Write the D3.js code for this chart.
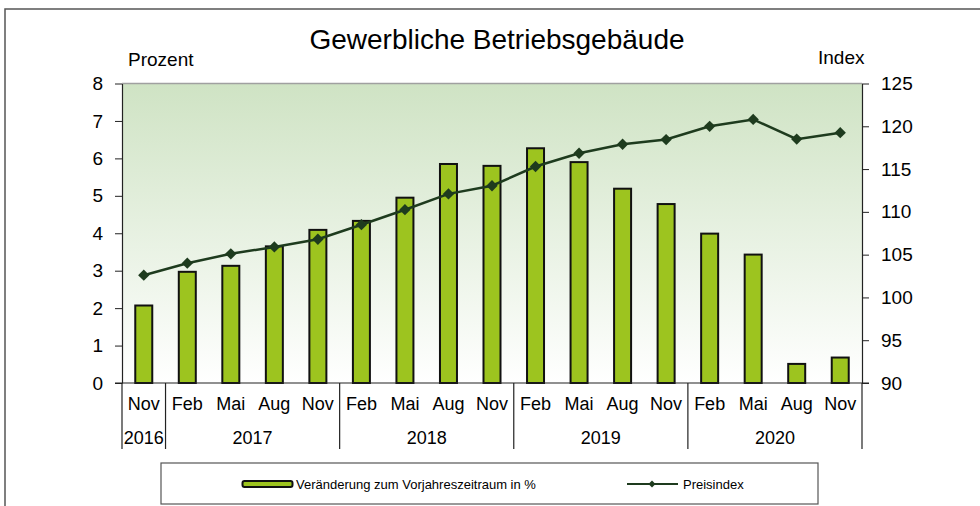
<!DOCTYPE html>
<html>
<head>
<meta charset="utf-8">
<script src="https://cdn.jsdelivr.net/npm/d3@7"></script>
<style>
  body { margin: 0; background: #fff; }
  svg { display: block; font-family: 'Liberation Sans', Arial, sans-serif; }
</style>
</head>
<body>
<div id="chart"></div>
<script>
const months = ['Nov', 'Feb', 'Mai', 'Aug', 'Nov', 'Feb', 'Mai', 'Aug', 'Nov', 'Feb', 'Mai', 'Aug', 'Nov', 'Feb', 'Mai', 'Aug', 'Nov']
const years = [
  { label: '2016', start: 0, end: 1 },
  { label: '2017', start: 1, end: 5 },
  { label: '2018', start: 5, end: 9 },
  { label: '2019', start: 9, end: 13 },
  { label: '2020', start: 13, end: 17 },
]
// Veränderung zum Vorjahreszeitraum in %
const changePct = [2.07, 2.97, 3.13, 3.65, 4.09, 4.33, 4.95, 5.85, 5.8, 6.27, 5.9, 5.19, 4.78, 3.99, 3.43, 0.51, 0.68]
// Preisindex
const priceIndex = [102.6, 104.0, 105.1, 105.9, 106.8, 108.5, 110.25, 112.1, 113.05, 115.3, 116.85, 117.9, 118.45, 120.0, 120.8, 118.5, 119.25]
const leftTicks = [0, 1, 2, 3, 4, 5, 6, 7, 8]
const rightTicks = [90, 95, 100, 105, 110, 115, 120, 125]

const width = 980
const height = 506
const plot = { left: 122, right: 862, top: 83.5, bottom: 383 }

const barColor = '#9dc41f'
const lineColor = '#1e3b1e'

const svg = d3
  .select('#chart')
  .append('svg')
  .attr('width', width)
  .attr('height', height)

// outer frame
svg
  .append('rect')
  .attr('x', 5)
  .attr('y', 9)
  .attr('width', width)
  .attr('height', height)
  .attr('fill', 'none')
  .attr('stroke', '#555')
  .attr('stroke-width', 1.5)

const grad = svg
  .append('defs')
  .append('linearGradient')
  .attr('id', 'bg')
  .attr('x1', 0)
  .attr('y1', 0)
  .attr('x2', 0)
  .attr('y2', 1)
grad.append('stop').attr('offset', '0%').attr('stop-color', '#cfe3c4')
grad.append('stop').attr('offset', '100%').attr('stop-color', '#ffffff')

const idx = d3.range(months.length)
const xScale = d3
  .scaleBand()
  .domain(idx)
  .range([plot.left, plot.right])
  .paddingInner(0)
  .paddingOuter(0)
const barWidth = 17

const yLeft = d3.scaleLinear().domain([0, 8]).range([plot.bottom, plot.top])
const yRight = d3.scaleLinear().domain([90, 125]).range([plot.bottom, plot.top])

svg
  .append('rect')
  .attr('x', plot.left)
  .attr('y', plot.top)
  .attr('width', plot.right - plot.left)
  .attr('height', plot.bottom - plot.top)
  .attr('fill', 'url(#bg)')

svg
  .append('line')
  .attr('x1', plot.left)
  .attr('x2', plot.right)
  .attr('y1', plot.top)
  .attr('y2', plot.top)
  .attr('stroke', '#a0a0a0')
  .attr('stroke-width', 1.5)

// bars
svg
  .append('g')
  .selectAll('rect')
  .data(idx)
  .join('rect')
  .attr('x', i => xScale(i) + xScale.bandwidth() / 2 - barWidth / 2)
  .attr('y', i => yLeft(changePct[i]))
  .attr('width', barWidth)
  .attr('height', i => yLeft(0) - yLeft(changePct[i]))
  .attr('fill', barColor)
  .attr('stroke', '#111')
  .attr('stroke-width', 2)

// axes
svg
  .append('g')
  .attr('transform', `translate(${plot.left},0)`)
  .call(d3.axisLeft(yLeft).tickValues(leftTicks).tickSize(7).tickSizeOuter(0).tickPadding(12))
  .call(g => {
    g.select('.domain').attr('stroke', '#222').attr('stroke-width', 1.2)
    g.selectAll('.tick line').attr('stroke', '#222')
    g.selectAll('.tick text').attr('fill', '#000').style('font-size', '19px')
  })

svg
  .append('g')
  .attr('transform', `translate(${plot.right},0)`)
  .call(d3.axisRight(yRight).tickValues(rightTicks).tickSize(7).tickSizeOuter(0).tickPadding(12))
  .call(g => {
    g.select('.domain').attr('stroke', '#222').attr('stroke-width', 1.2)
    g.selectAll('.tick line').attr('stroke', '#222')
    g.selectAll('.tick text').attr('fill', '#000').style('font-size', '19px')
  })

svg
  .append('line')
  .attr('x1', plot.left - 7)
  .attr('x2', plot.right + 7)
  .attr('y1', plot.bottom)
  .attr('y2', plot.bottom)
  .attr('stroke', '#222')
  .attr('stroke-width', 1.2)

// index line
const line = d3
  .line()
  .x(i => xScale(i) + xScale.bandwidth() / 2)
  .y(i => yRight(priceIndex[i]))

svg
  .append('path')
  .datum(idx)
  .attr('d', line)
  .attr('fill', 'none')
  .attr('stroke', lineColor)
  .attr('stroke-width', 2.5)

svg
  .append('g')
  .selectAll('path')
  .data(idx)
  .join('path')
  .attr('d', d3.symbol(d3.symbolSquare, 64))
  .attr('transform', i => `translate(${xScale(i) + xScale.bandwidth() / 2},${yRight(priceIndex[i])}) rotate(45)`)
  .attr('fill', lineColor)

// category axis
svg
  .append('g')
  .selectAll('text')
  .data(idx)
  .join('text')
  .attr('x', i => xScale(i) + xScale.bandwidth() / 2)
  .attr('y', 410)
  .attr('text-anchor', 'middle')
  .style('font-size', '18px')
  .text(i => months[i])

svg
  .append('g')
  .selectAll('text')
  .data(years)
  .join('text')
  .attr('x', d => (xScale(d.start) + xScale(d.end - 1) + xScale.bandwidth()) / 2)
  .attr('y', 444)
  .attr('text-anchor', 'middle')
  .style('font-size', '18px')
  .text(d => d.label)

const separators = [0, ...years.map(d => d.end)]
svg
  .append('g')
  .selectAll('line')
  .data(separators)
  .join('line')
  .attr('x1', s => (s < months.length ? xScale(s) : plot.right))
  .attr('x2', s => (s < months.length ? xScale(s) : plot.right))
  .attr('y1', plot.bottom)
  .attr('y2', 449)
  .attr('stroke', '#222')
  .attr('stroke-width', 1.2)

// titles
svg
  .append('text')
  .attr('x', 497)
  .attr('y', 48.5)
  .attr('text-anchor', 'middle')
  .style('font-size', '28px')
  .text('Gewerbliche Betriebsgebäude')

svg
  .append('text')
  .attr('x', 128)
  .attr('y', 66)
  .style('font-size', '19px')
  .text('Prozent')

svg
  .append('text')
  .attr('x', 818)
  .attr('y', 64)
  .style('font-size', '19px')
  .text('Index')

// legend
const legend = svg.append('g')
legend
  .append('rect')
  .attr('x', 161)
  .attr('y', 463)
  .attr('width', 657)
  .attr('height', 41)
  .attr('fill', '#fff')
  .attr('stroke', '#555')
  .attr('stroke-width', 1.2)

legend
  .append('rect')
  .attr('x', 242.5)
  .attr('y', 481)
  .attr('width', 50)
  .attr('height', 6)
  .attr('rx', 2)
  .attr('fill', barColor)
  .attr('stroke', '#111')
  .attr('stroke-width', 2)

legend
  .append('text')
  .attr('x', 296)
  .attr('y', 488.5)
  .style('font-size', '13px')
  .text('Veränderung zum Vorjahreszeitraum in %')

legend
  .append('line')
  .attr('x1', 627)
  .attr('x2', 678)
  .attr('y1', 484)
  .attr('y2', 484)
  .attr('stroke', lineColor)
  .attr('stroke-width', 2)

legend
  .append('path')
  .attr('d', d3.symbol(d3.symbolSquare, 24))
  .attr('transform', 'translate(652,484) rotate(45)')
  .attr('fill', lineColor)

legend
  .append('text')
  .attr('x', 683)
  .attr('y', 488.5)
  .style('font-size', '13px')
  .text('Preisindex')
</script>
</body>
</html>
